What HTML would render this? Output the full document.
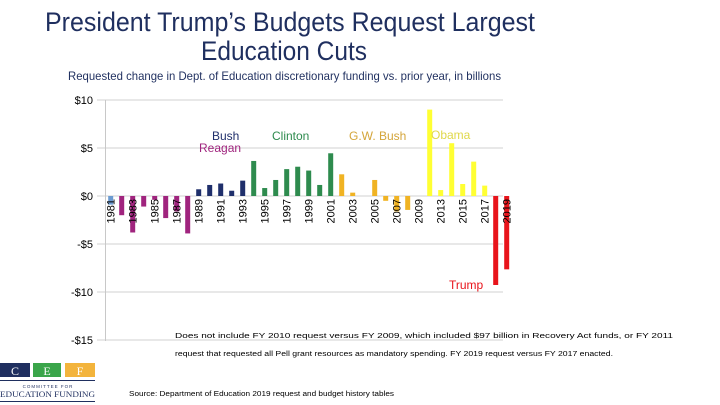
<!DOCTYPE html>
<html><head><meta charset="utf-8"><style>
html,body{margin:0;padding:0;background:#fff;}
svg{display:block;font-family:"Liberation Sans",sans-serif;}
</style></head><body>
<svg id="chart" width="720" height="405" viewBox="0 0 720 405">
<text x="45" y="31" font-size="27" fill="#1f2f5f" textLength="490" lengthAdjust="spacingAndGlyphs">President Trump’s Budgets Request Largest</text>
<text x="201" y="60" font-size="27" fill="#1f2f5f" textLength="166" lengthAdjust="spacingAndGlyphs">Education Cuts</text>
<text x="68" y="80" font-size="12" fill="#1f2f5f" textLength="433" lengthAdjust="spacingAndGlyphs">Requested change in Dept. of Education discretionary funding vs. prior year, in billions</text>
<g id="grid"></g><g id="bars"></g><g id="xlabels"></g>
<text x="212" y="140" font-size="12" fill="#1f2f6b">Bush</text>
<text x="199" y="152" font-size="12" fill="#a0247e">Reagan</text>
<text x="272" y="140" font-size="12" fill="#2e8b4e">Clinton</text>
<text x="349" y="140" font-size="12" fill="#d4a53a">G.W. Bush</text>
<text x="431" y="139" font-size="12" fill="#e0d84a">Obama</text>
<text x="449" y="289" font-size="12" fill="#e8141b">Trump</text>
<text x="175" y="338" font-size="7.6" fill="#000" textLength="498" lengthAdjust="spacingAndGlyphs">Does not include FY 2010 request versus FY 2009, which included $97 billion in Recovery Act funds, or FY 2011</text>
<text x="175" y="356" font-size="7.6" fill="#000" textLength="438" lengthAdjust="spacingAndGlyphs">request that requested all Pell grant resources as mandatory spending. FY 2019 request versus FY 2017 enacted.</text>
<text x="129" y="396" font-size="7.6" fill="#000" textLength="265" lengthAdjust="spacingAndGlyphs">Source: Department of Education 2019 request and budget history tables</text>
<g>
<rect x="0" y="363" width="30" height="14" fill="#1f2f5f"/><text x="15" y="375" font-size="12" fill="#fff" text-anchor="middle" font-family="Liberation Serif,serif">C</text>
<rect x="33" y="363" width="28" height="14" fill="#3aa54a"/><text x="47" y="375" font-size="12" fill="#fff" text-anchor="middle" font-family="Liberation Serif,serif">E</text>
<rect x="65" y="363" width="30" height="14" fill="#f3b43c"/><text x="80" y="375" font-size="12" fill="#fff" text-anchor="middle" font-family="Liberation Serif,serif">F</text>
<rect x="0" y="380" width="95" height="1" fill="#1f2f5f"/>
<text x="48" y="388" font-size="4.5" fill="#1f2f5f" text-anchor="middle" letter-spacing="1">COMMITTEE FOR</text>
<text x="0" y="397" font-size="8.5" fill="#1f2f5f" font-family="Liberation Serif,serif" textLength="95" lengthAdjust="spacingAndGlyphs">EDUCATION FUNDING</text>
<rect x="0" y="401" width="95" height="1" fill="#1f2f5f"/>
</g>
</svg>
<script>
const years=["1981","1982","1983","1984","1985","1986","1987","1988","1989","1990","1991","1992","1993","1994","1995","1996","1997","1998","1999","2000","2001","2002","2003","2004","2005","2006","2007","2008","2009","2012","2013","2014","2015","2016","2017","2018","2019"];
const values=[-0.9,-2.0,-3.8,-1.1,-0.4,-2.3,-1.6,-3.9,0.7,1.15,1.3,0.55,1.6,3.65,0.83,1.67,2.8,3.05,2.65,1.15,4.45,2.26,0.35,0,1.67,-0.5,-1.6,-1.45,0,9.0,0.62,5.5,1.25,3.58,1.08,-9.27,-7.64];
const presidents=["carter","reagan","reagan","reagan","reagan","reagan","reagan","reagan","bush","bush","bush","bush","bush","clinton","clinton","clinton","clinton","clinton","clinton","clinton","clinton","gwbush","gwbush","gwbush","gwbush","gwbush","gwbush","gwbush","gwbush","obama","obama","obama","obama","obama","obama","trump","trump"];
const yTicks=[10,5,0,-5,-10,-15];
const yTickLabels=["$10","$5","$0","-$5","-$10","-$15"];
const colors={carter:"#6b9bd1",reagan:"#a0247e",bush:"#1f2f6b",clinton:"#2e8b4e",gwbush:"#f0b323",obama:"#ffff33",trump:"#e8141b"};
const NS="http://www.w3.org/2000/svg";
const y0=196,pxPer=9.6,x0=110.7,step=11,bw=5;
const yS=v=>y0-v*pxPer, xS=i=>x0+i*step;
const grid=document.getElementById('grid'),bars=document.getElementById('bars'),xl=document.getElementById('xlabels');
function mk(t,a){const e=document.createElementNS(NS,t);for(const k in a)e.setAttribute(k,a[k]);return e;}
yTicks.forEach((t,i)=>{
 const l=mk('line',{x1:97,x2:503,y1:yS(t),y2:yS(t),stroke:'#d0d0d0','stroke-width':1});
 
 
 grid.appendChild(l);
 const tx=mk('text',{x:93,y:yS(t)+4,'font-size':11,'text-anchor':'end',fill:'#000'});
 tx.textContent=yTickLabels[i];
 
 
 grid.appendChild(tx);
});
const ax=mk('line',{x1:105.5,x2:105.5,y1:100,y2:341,stroke:'#c8c8c8','stroke-width':1});


grid.appendChild(ax);
values.forEach((v,i)=>{
 const top=Math.min(yS(v),y0),h=Math.abs(yS(v)-y0);
 const r=mk('rect',{x:xS(i)-bw/2,y:top,width:bw,height:h,fill:colors[presidents[i]]});
 
 
 bars.appendChild(r);
});
years.forEach((y,i)=>{
 if(i%2==1)return;
 const t=mk('text',{transform:`translate(${xS(i)+4},${y0+3}) rotate(-90)`,'font-size':11,'text-anchor':'end',fill:'#000'});
 t.textContent=y;
 
 
 xl.appendChild(t);
});
</script>
</body></html>
